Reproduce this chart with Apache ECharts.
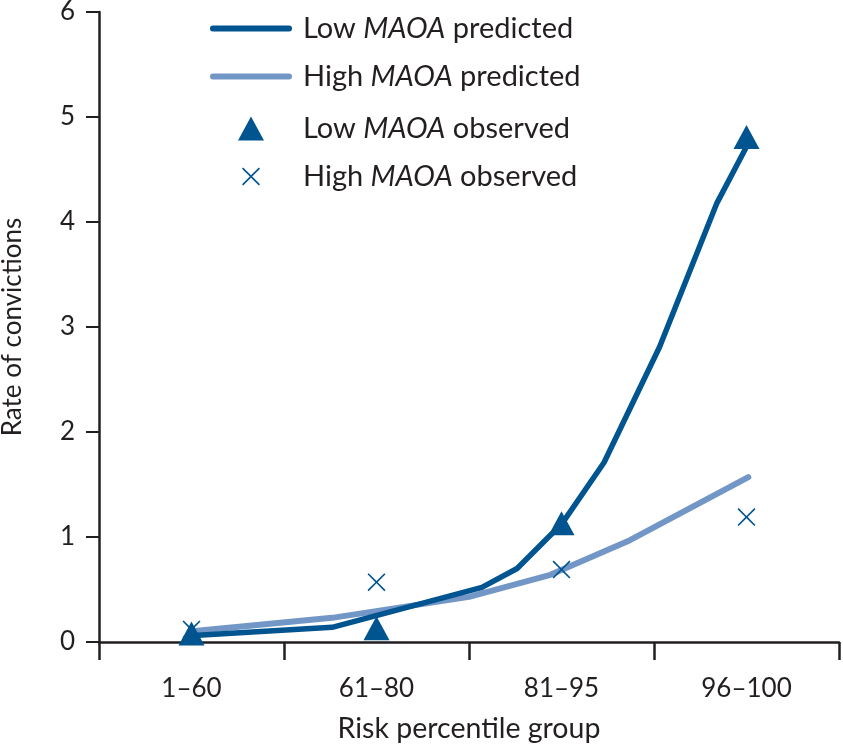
<!DOCTYPE html>
<html>
<head>
<meta charset="utf-8">
<script src="https://cdn.jsdelivr.net/npm/echarts@6/dist/echarts.min.js"></script>
<style>
html,body{margin:0;padding:0;background:#fff;}
#chart{width:843px;height:744px;}
</style>
</head>
<body>
<div id="chart"></div>
<script>
// Categories (x axis)
const categories = ['1–60', '61–80', '81–95', '96–100'];
const yTicks = [0, 1, 2, 3, 4, 5, 6];

// Predicted curves: x positions in category units (category i centred at i + 0.5)
const lowPredX  = [0.49, 1.26, 2.07, 2.26, 2.43, 2.50, 2.73, 3.03, 3.34, 3.51];
const lowPredY  = [0.06, 0.14, 0.52, 0.70, 1.00, 1.12, 1.71, 2.81, 4.18, 4.75];
const highPredX = [0.49, 1.26, 2.00, 2.44, 2.87, 3.51];
const highPredY = [0.10, 0.23, 0.43, 0.64, 0.97, 1.57];

// Observed rates, one per category
const lowObs  = [0.08, 0.13, 1.13, 4.81];
const highObs = [0.12, 0.57, 0.69, 1.19];

const seriesNames = ['Low MAOA predicted', 'High MAOA predicted', 'Low MAOA observed', 'High MAOA observed'];

const TXT = '#231f20';
const DARK = '#00548f';
const LIGHT = '#7297c6';
const FONT = 'Lato';

const pairs = (xs, ys) => xs.map((x, i) => [x, ys[i]]);
const atCentres = (ys) => ys.map((y, i) => [i + 0.5, y]);

const xPath = 'path://M0,6.5L6.5,0L50,43.5L93.5,0L100,6.5L56.5,50L100,93.5L93.5,100L50,56.5L6.5,100L0,93.5L43.5,50Z';
const barPath = 'path://M3,0L79,0A3,3,0,0,1,79,6L3,6A3,3,0,0,1,3,0Z';

const rich = {
  n: {fontFamily: FONT, fontSize: 29, color: TXT, lineHeight: 32},
  i: {fontFamily: FONT, fontSize: 29, color: TXT, fontStyle: 'italic', lineHeight: 32}
};
const fmt = (name) => {
  const parts = name.split('MAOA');
  return '{n|' + parts[0] + '}{i|MAOA}{n|' + parts[1] + '}';
};
// text should start at x = 303; icon centre at x = 251
function legendFor(name, centreY, icon, w, h, color) {
  const left = 251 - w / 2;
  const pad = 303 - (left + w + 5);
  return {
    data: [{name: name, icon: icon, itemStyle: {color: color}}],
    left: left, top: centreY - 13, padding: 0,
    itemWidth: w, itemHeight: h, symbolKeepAspect: true,
    formatter: fmt, selectedMode: false,
    textStyle: {rich: rich, padding: [0, 0, 0, pad]}
  };
}

const chart = echarts.init(document.getElementById('chart'), null, {renderer: 'canvas'});
chart.setOption({
  animation: false,
  backgroundColor: '#fff',
  grid: {left: 99, right: 4, top: 12, bottom: 102, containLabel: false, outerBoundsMode: 'none'},
  legend: [
    legendFor(seriesNames[0], 27, barPath, 82, 6, DARK),
    legendFor(seriesNames[1], 75, barPath, 82, 6, LIGHT),
    legendFor(seriesNames[2], 127, 'triangle', 26, 24, DARK),
    legendFor(seriesNames[3], 175, xPath, 18, 18, DARK)
  ],
  xAxis: [
    {
      type: 'category', data: categories, boundaryGap: true,
      axisLine: {lineStyle: {color: TXT, width: 2.5}},
      axisTick: {show: true, length: 18, lineStyle: {color: TXT, width: 2.5}},
      axisLabel: {fontFamily: FONT, fontSize: 26, color: TXT, margin: 34},
      name: 'Risk percentile group', nameLocation: 'middle', nameGap: 72,
      nameTextStyle: {fontFamily: FONT, fontSize: 28.5, color: TXT},
      splitLine: {show: false}
    },
    {type: 'value', min: 0, max: 4, show: false}
  ],
  yAxis: {
    type: 'value', min: 0, max: 6, interval: 1,
    axisLine: {show: true, lineStyle: {color: TXT, width: 2.5}},
    axisTick: {show: true, length: 13, lineStyle: {color: TXT, width: 2}},
    axisLabel: {fontFamily: FONT, fontSize: 26, color: TXT, margin: 24,
      formatter: (v) => yTicks.includes(v) ? String(v) : ''},
    splitLine: {show: false},
    name: 'Rate of convictions', nameLocation: 'middle', nameRotate: 90, nameGap: 73,
    nameTextStyle: {fontFamily: FONT, fontSize: 26, color: TXT}
  },
  series: [
    {
      name: seriesNames[1], type: 'line', xAxisIndex: 1, data: pairs(highPredX, highPredY),
      showSymbol: false, symbol: 'none', color: LIGHT,
      lineStyle: {color: LIGHT, width: 6, cap: 'round', join: 'round'}, z: 2
    },
    {
      name: seriesNames[0], type: 'line', xAxisIndex: 1, data: pairs(lowPredX, lowPredY),
      showSymbol: false, symbol: 'none', color: DARK,
      lineStyle: {color: DARK, width: 5.5, cap: 'round', join: 'round'}, z: 3
    },
    {
      name: seriesNames[2], type: 'scatter', xAxisIndex: 1, data: atCentres(lowObs),
      symbol: 'triangle', symbolSize: [26, 24], itemStyle: {color: DARK, opacity: 1}, z: 4
    },
    {
      name: seriesNames[3], type: 'scatter', xAxisIndex: 1, data: atCentres(highObs),
      symbol: xPath, symbolSize: 18, itemStyle: {color: DARK, opacity: 1}, z: 5
    }
  ]
});
</script>
</body>
</html>
